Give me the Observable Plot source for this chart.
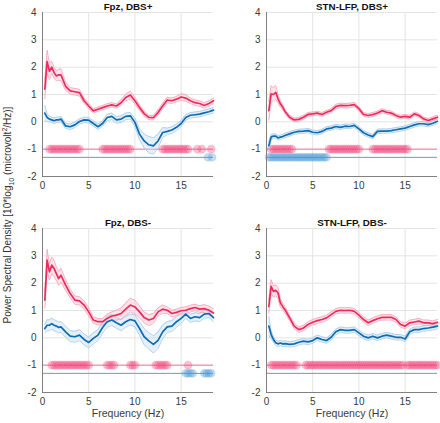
<!DOCTYPE html>
<html><head><meta charset="utf-8">
<script src="https://cdn.jsdelivr.net/npm/d3@7"></script>
<script src="https://cdn.jsdelivr.net/npm/@observablehq/plot@0.6"></script>
<style>
body{margin:0;background:#fff;font-family:"Liberation Sans",Arial,sans-serif;}
#wrap{position:relative;width:440px;height:423px;overflow:hidden;background:#fff;}
.panel{position:absolute;}
#ylab{position:absolute;left:8px;top:215px;transform:translate(-50%,-50%) rotate(-90deg);white-space:nowrap;font-size:10px;color:#333;line-height:12px;}
#ylab sub,#ylab sup{font-size:7px;line-height:0;}
</style></head><body>
<div id="wrap"><div id="ylab">Power Spectral Density [10*log<sub>10</sub> (microvolt<sup>2</sup>/Hz)]</div></div>
<script>
// Frequencies (Hz)
const freq = [0.25,0.5,0.75,1,1.25,1.5,1.75,2,2.5,3,3.5,4,4.5,5,5.5,6,6.5,7,7.5,8,8.5,9,9.5,10,10.5,11,11.5,12,12.5,13,13.5,14,14.5,15,15.5,16,16.5,17,17.5,18,18.5];
const xTicks = [0,5,10,15];
const yTicks = [-2,-1,0,1,2,3,4];
const titles = ["Fpz, DBS+","STN-LFP, DBS+","Fpz, DBS-","STN-LFP, DBS-"];
const xLabel = "Frequency (Hz)";

// Fpz, DBS+
const fpzOnPink = [1.2,2.2,1.85,2.0,1.8,1.68,1.72,1.72,1.3,1.13,1.1,1.07,0.77,0.58,0.4,0.46,0.52,0.58,0.62,0.58,0.7,0.89,0.98,0.77,0.52,0.3,0.16,0.15,0.34,0.58,0.8,0.77,0.83,0.91,0.87,0.77,0.7,0.67,0.6,0.67,0.77];
const fpzOnPinkErr = [0.35,0.42,0.3,0.22,0.2,0.18,0.2,0.22,0.15,0.12,0.12,0.12,0.1,0.1,0.08,0.08,0.08,0.08,0.08,0.08,0.1,0.12,0.14,0.12,0.1,0.1,0.08,0.08,0.1,0.1,0.1,0.1,0.1,0.12,0.12,0.1,0.1,0.1,0.1,0.1,0.1];
const fpzOnBlue = [0.32,0.16,0.1,0.07,0.04,0.07,0.07,0.1,-0.15,-0.18,-0.11,0.01,0.07,0.06,-0.06,-0.18,-0.06,0.16,0.2,0.07,0.1,0.2,0.22,-0.02,-0.45,-0.7,-0.84,-0.88,-0.7,-0.39,-0.35,-0.3,-0.2,-0.06,0.16,0.24,0.26,0.28,0.33,0.37,0.43];
const fpzOnBlueErr = [0.28,0.15,0.1,0.1,0.1,0.1,0.1,0.1,0.1,0.1,0.1,0.1,0.1,0.1,0.1,0.1,0.1,0.12,0.12,0.12,0.12,0.12,0.12,0.15,0.2,0.25,0.3,0.3,0.25,0.18,0.12,0.12,0.12,0.12,0.1,0.1,0.1,0.1,0.1,0.1,0.1];
const fpzOnPinkSig = [[0.75,4],[6.5,9.5],[13,15.75],[16.75,16.75],[17.25,17.25],[18.25,18.25]];
const fpzOnBlueSig = [[17.9,17.9],[18.35,18.35]];

// STN-LFP, DBS+
const stnOnPink = [0.41,1.02,1.0,1.08,0.84,0.66,0.54,0.38,0.17,0.07,0.09,0.17,0.27,0.29,0.32,0.27,0.35,0.41,0.56,0.6,0.59,0.6,0.63,0.48,0.27,0.23,0.27,0.32,0.41,0.35,0.32,0.23,0.17,0.2,0.17,0.29,0.23,0.11,0.05,0.11,0.17];
const stnOnPinkErr = [0.35,0.3,0.25,0.25,0.15,0.12,0.1,0.08,0.07,0.07,0.07,0.07,0.07,0.07,0.07,0.07,0.07,0.07,0.08,0.08,0.08,0.08,0.08,0.08,0.07,0.07,0.07,0.07,0.07,0.07,0.07,0.07,0.07,0.07,0.07,0.07,0.07,0.07,0.07,0.07,0.07];
const stnOnBlue = [-0.87,-0.56,-0.52,-0.52,-0.59,-0.56,-0.54,-0.5,-0.44,-0.38,-0.35,-0.34,-0.32,-0.38,-0.4,-0.35,-0.26,-0.23,-0.17,-0.2,-0.16,-0.17,-0.13,-0.26,-0.4,-0.48,-0.54,-0.35,-0.34,-0.34,-0.32,-0.29,-0.26,-0.23,-0.17,-0.11,-0.07,-0.07,-0.1,-0.05,0.02];
const stnOnBlueErr = [0.15,0.1,0.08,0.08,0.08,0.08,0.08,0.08,0.08,0.08,0.08,0.08,0.08,0.08,0.08,0.08,0.08,0.08,0.08,0.08,0.08,0.08,0.08,0.08,0.08,0.08,0.08,0.08,0.08,0.08,0.08,0.08,0.08,0.08,0.08,0.08,0.08,0.08,0.08,0.08,0.08];
const stnOnPinkSig = [[0.5,2.75],[6.75,10],[11.5,15.25]];
const stnOnBlueSig = [[0.25,6.5]];

// Fpz, DBS-
const fpzOffPink = [1.38,2.84,2.41,2.66,2.54,2.35,2.17,2.29,1.93,1.62,1.38,1.35,1.2,0.95,0.65,0.59,0.59,0.71,0.8,0.83,0.89,1.05,1.2,1.13,0.95,0.74,0.65,0.71,0.95,1.05,1.01,0.89,0.93,0.99,1.01,1.07,1.11,1.05,1.07,1.01,0.91];
const fpzOffPinkErr = [0.3,0.4,0.3,0.3,0.3,0.25,0.25,0.25,0.2,0.15,0.15,0.15,0.15,0.15,0.12,0.12,0.12,0.15,0.15,0.18,0.2,0.22,0.25,0.25,0.22,0.2,0.2,0.18,0.15,0.15,0.12,0.12,0.12,0.12,0.12,0.12,0.12,0.12,0.15,0.15,0.15];
const fpzOffBlue = [0.34,0.46,0.46,0.52,0.46,0.43,0.38,0.4,0.22,0.06,0.04,0.1,-0.06,-0.17,-0.02,0.1,0.38,0.59,0.65,0.55,0.46,0.59,0.67,0.62,0.34,0.04,-0.11,-0.24,-0.09,0.22,0.4,0.43,0.59,0.71,0.87,0.71,0.77,0.74,0.87,0.89,0.74];
const fpzOffBlueErr = [0.15,0.2,0.2,0.2,0.2,0.2,0.2,0.2,0.2,0.2,0.2,0.2,0.2,0.2,0.2,0.2,0.2,0.2,0.2,0.2,0.2,0.2,0.2,0.22,0.25,0.3,0.3,0.32,0.3,0.25,0.2,0.2,0.2,0.18,0.15,0.15,0.15,0.15,0.15,0.15,0.15];
const fpzOffPinkSig = [[1,5],[7,7.75],[9.5,10],[12.25,13.5],[15.75,15.75]];
const fpzOffBlueSig = [[15.5,16.25],[17.5,18.25]];

// STN-LFP, DBS-
const stnOffPink = [1.15,1.88,1.7,1.74,1.64,1.28,1.15,1.03,0.73,0.43,0.3,0.36,0.49,0.57,0.63,0.67,0.73,0.85,0.97,1.01,1.0,1.01,0.97,0.83,0.67,0.55,0.63,0.7,0.75,0.75,0.75,0.67,0.49,0.43,0.55,0.58,0.61,0.55,0.55,0.52,0.57];
const stnOffPinkErr = [0.25,0.25,0.2,0.2,0.2,0.15,0.12,0.12,0.1,0.1,0.1,0.1,0.1,0.1,0.1,0.1,0.1,0.1,0.1,0.1,0.1,0.1,0.1,0.1,0.1,0.1,0.1,0.1,0.1,0.1,0.1,0.1,0.1,0.1,0.1,0.1,0.1,0.1,0.1,0.1,0.1];
const stnOffBlue = [0.43,0.12,-0.06,-0.18,-0.22,-0.19,-0.22,-0.21,-0.24,-0.22,-0.16,-0.12,-0.15,-0.1,0.0,-0.06,-0.1,0.02,0.22,0.3,0.27,0.27,0.3,0.18,0.06,0.0,0.06,0.0,0.06,0.1,0.06,0.02,0.02,-0.04,0.22,0.3,0.3,0.34,0.36,0.39,0.43];
const stnOffBlueErr = [0.35,0.15,0.1,0.1,0.1,0.1,0.1,0.1,0.1,0.1,0.1,0.1,0.1,0.1,0.1,0.1,0.1,0.1,0.1,0.1,0.1,0.1,0.1,0.1,0.1,0.1,0.1,0.1,0.1,0.1,0.1,0.1,0.1,0.1,0.1,0.1,0.1,0.1,0.1,0.1,0.1];
const stnOffPinkSig = [[0.5,3.25],[4.25,14.75],[15.25,18.5]];
const stnOffBlueSig = [];

const sigLevels = {pink:-1, blue:-1.3};

const C = {
  pink:"#ee2a5c", pinkEdge:"#f7a8bf", pinkFill:"#f6b9cb", pinkDot:"#f0467c", pinkRule:"#f27a9c",
  blue:"#0c6db2", blueEdge:"#a9cde9", blueFill:"#c3dcf0", blueDot:"#4d98d4", blueRule:"#5d9fd3",
  grid:"#e4e4e4", axis:"#808080", text:"#3a3a3a"
};

function expand(ivals){
  return ivals.flatMap(([a,b]) => a === b ? [a] : d3.range(a, b + 1e-9, 0.25));
}

function panel(o){
  const rows = freq.map((f,i)=>({f, p:o.pink[i], pe:o.pinkErr[i], b:o.blue[i], be:o.blueErr[i]}));
  const pd = expand(o.pinkSig), bd = expand(o.blueSig);
  const marks = [
    Plot.ruleX(xTicks, {stroke:C.grid}),
    Plot.ruleY(yTicks, {stroke:C.grid}),
    Plot.ruleY([sigLevels.pink], {stroke:C.pinkRule, strokeWidth:1}),
    Plot.ruleY([sigLevels.blue], {stroke:C.blueRule, strokeWidth:1}),
    Plot.dot(pd, {x:d=>d, y:()=>sigLevels.pink, r:3.8, fill:C.pinkDot, fillOpacity:0.32, stroke:C.pinkDot, strokeOpacity:0.15}),
    Plot.dot(bd, {x:d=>d, y:()=>sigLevels.blue, r:3.8, fill:C.blueDot, fillOpacity:0.32, stroke:C.blueDot, strokeOpacity:0.15}),
    Plot.areaY(rows, {x:"f", y1:d=>d.b-d.be, y2:d=>d.b+d.be, fill:C.blueFill, fillOpacity:0.45}),
    Plot.line(rows, {x:"f", y:d=>d.b+d.be, stroke:C.blueEdge, strokeWidth:0.9}),
    Plot.line(rows, {x:"f", y:d=>d.b-d.be, stroke:C.blueEdge, strokeWidth:0.9}),
    Plot.areaY(rows, {x:"f", y1:d=>d.p-d.pe, y2:d=>d.p+d.pe, fill:C.pinkFill, fillOpacity:0.4}),
    Plot.line(rows, {x:"f", y:d=>d.p+d.pe, stroke:C.pinkEdge, strokeWidth:0.9}),
    Plot.line(rows, {x:"f", y:d=>d.p-d.pe, stroke:C.pinkEdge, strokeWidth:0.9}),
    Plot.line(rows, {x:"f", y:"b", stroke:C.blue, strokeWidth:1.7}),
    Plot.line(rows, {x:"f", y:"p", stroke:C.pink, strokeWidth:1.7}),
    Plot.ruleX([0], {stroke:C.axis}),
    Plot.ruleY([-2], {stroke:C.axis}),
    Plot.text([o.title], {frameAnchor:"top", dy:-6, lineAnchor:"middle", fontWeight:"bold", fontSize:9.8, fill:"#111"})
  ];
  if (o.xlabel) marks.push(Plot.text([xLabel], {frameAnchor:"bottom", dy:21, lineAnchor:"middle", fontSize:10.5, fill:C.text}));
  const svg = Plot.plot({
    width:220, height:213, marginLeft:o.ml, marginRight:o.mr, marginTop:18, marginBottom:31,
    style:{fontFamily:'"Liberation Sans", Arial, sans-serif', fontSize:"10px", color:C.text, background:"transparent", overflow:"visible"},
    x:{domain:[0,18.5], ticks:xTicks, tickSize:0, tickPadding:5, label:null, tickFormat:d=>String(d)},
    y:{domain:[-2,4], ticks:yTicks, tickSize:0, tickPadding:6, label:null, tickFormat:d=>String(d)},
    marks
  });
  svg.classList.add("panel");
  svg.style.left = o.left + "px";
  svg.style.top = o.top + "px";
  svg.style.position = "absolute";
  document.getElementById("wrap").appendChild(svg);
}

panel({title:titles[0], pink:fpzOnPink, pinkErr:fpzOnPinkErr, blue:fpzOnBlue, blueErr:fpzOnBlueErr, pinkSig:fpzOnPinkSig, blueSig:fpzOnBlueSig, left:0, top:-6, ml:42, mr:7, xlabel:false});
panel({title:titles[1], pink:stnOnPink, pinkErr:stnOnPinkErr, blue:stnOnBlue, blueErr:stnOnBlueErr, pinkSig:stnOnPinkSig, blueSig:stnOnBlueSig, left:220, top:-6, ml:46, mr:3, xlabel:false});
panel({title:titles[2], pink:fpzOffPink, pinkErr:fpzOffPinkErr, blue:fpzOffBlue, blueErr:fpzOffBlueErr, pinkSig:fpzOffPinkSig, blueSig:fpzOffBlueSig, left:0, top:210, ml:42, mr:7, xlabel:true});
panel({title:titles[3], pink:stnOffPink, pinkErr:stnOffPinkErr, blue:stnOffBlue, blueErr:stnOffBlueErr, pinkSig:stnOffPinkSig, blueSig:stnOffBlueSig, left:220, top:210, ml:46, mr:3, xlabel:true});
</script>
</body></html>
